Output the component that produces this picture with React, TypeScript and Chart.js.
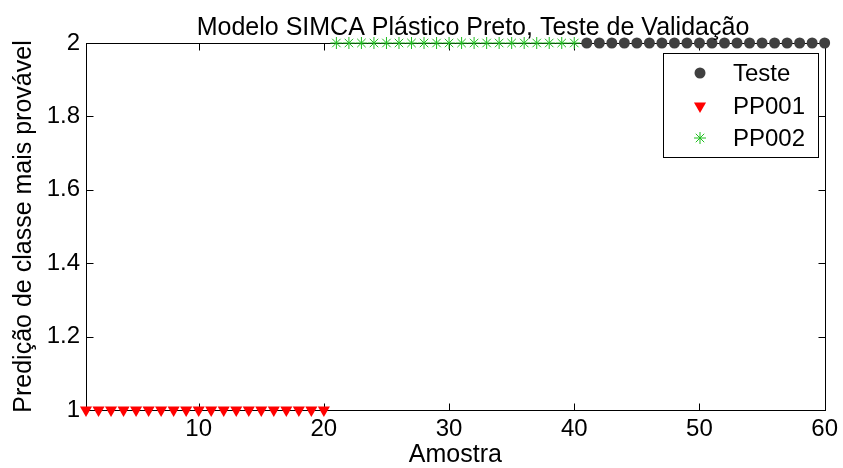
import React, { useEffect, useRef } from 'react';
import { Chart, registerables } from 'chart.js';

Chart.register(...registerables);

const TITLE = 'Modelo SIMCA Plástico Preto, Teste de Validação';
const X_LABEL = 'Amostra';
const Y_LABEL = 'Predição de classe mais provável';
const SERIES_NAMES = ['Teste', 'PP001', 'PP002'];

const testeX = [41, 42, 43, 44, 45, 46, 47, 48, 49, 50, 51, 52, 53, 54, 55, 56, 57, 58, 59, 60];
const testeY = [2, 2, 2, 2, 2, 2, 2, 2, 2, 2, 2, 2, 2, 2, 2, 2, 2, 2, 2, 2];
const pp001X = [1, 2, 3, 4, 5, 6, 7, 8, 9, 10, 11, 12, 13, 14, 15, 16, 17, 18, 19, 20];
const pp001Y = [1, 1, 1, 1, 1, 1, 1, 1, 1, 1, 1, 1, 1, 1, 1, 1, 1, 1, 1, 1];
const pp002X = [21, 22, 23, 24, 25, 26, 27, 28, 29, 30, 31, 32, 33, 34, 35, 36, 37, 38, 39, 40];
const pp002Y = [2, 2, 2, 2, 2, 2, 2, 2, 2, 2, 2, 2, 2, 2, 2, 2, 2, 2, 2, 2];

const X_TICKS = [10, 20, 30, 40, 50, 60];
const Y_TICKS = [1, 1.2, 1.4, 1.6, 1.8, 2];

const FONT = '"Liberation Sans", Arial, Helvetica, sans-serif';
const C_TESTE = '#404040';
const C_PP001 = '#ff0000';
const C_PP002 = '#1fbf1f';

const zip = (xs: number[], ys: number[]) => xs.map((x, i) => ({ x, y: ys[i] }));

function drawMarker(ctx: CanvasRenderingContext2D, kind: number, x: number, y: number) {
  ctx.save();
  if (kind === 0) {
    ctx.fillStyle = C_TESTE;
    ctx.beginPath();
    ctx.arc(x, y, 5.5, 0, Math.PI * 2);
    ctx.fill();
  } else if (kind === 1) {
    const r = 7;
    ctx.fillStyle = C_PP001;
    ctx.beginPath();
    ctx.moveTo(x - r * Math.sin(Math.PI / 3), y - r / 2);
    ctx.lineTo(x + r * Math.sin(Math.PI / 3), y - r / 2);
    ctx.lineTo(x, y + r);
    ctx.closePath();
    ctx.fill();
  } else {
    const r = 6;
    ctx.strokeStyle = C_PP002;
    ctx.lineWidth = 1;
    ctx.beginPath();
    for (let k = 0; k < 4; k++) {
      const a = (k * Math.PI) / 4;
      ctx.moveTo(x - r * Math.cos(a), y - r * Math.sin(a));
      ctx.lineTo(x + r * Math.cos(a), y + r * Math.sin(a));
    }
    ctx.stroke();
  }
  ctx.restore();
}

const framePlugin = {
  id: 'frame',
  beforeDatasetsDraw(chart: any) {
    const { ctx, chartArea } = chart;
    const xs = chart.scales.x;
    const ys = chart.scales.y;
    const l = Math.round(chartArea.left) + 0.5;
    const r = Math.round(chartArea.right) + 0.5;
    const t = Math.round(chartArea.top) + 0.5;
    const b = Math.round(chartArea.bottom) + 0.5;
    const tl = 7;
    ctx.save();
    ctx.strokeStyle = '#000';
    ctx.lineWidth = 1;
    ctx.strokeRect(l, t, r - l, b - t);
    ctx.beginPath();
    X_TICKS.forEach((v) => {
      const px = Math.round(xs.getPixelForValue(v)) + 0.5;
      ctx.moveTo(px, b);
      ctx.lineTo(px, b - tl);
      ctx.moveTo(px, t);
      ctx.lineTo(px, t + tl);
    });
    Y_TICKS.forEach((v) => {
      const py = Math.round(ys.getPixelForValue(v)) + 0.5;
      ctx.moveTo(l, py);
      ctx.lineTo(l + tl, py);
      ctx.moveTo(r, py);
      ctx.lineTo(r - tl, py);
    });
    ctx.stroke();
    ctx.restore();
  },
  afterDraw(chart: any) {
    const { ctx } = chart;
    ctx.save();
    // title
    ctx.fillStyle = '#000';
    ctx.font = `25px ${FONT}`;
    ctx.textAlign = 'center';
    ctx.textBaseline = 'alphabetic';
    ctx.fillText(TITLE, 473, 35);
    // legend
    const bx = 663.5, by = 53.5, bw = 155, bh = 104;
    ctx.fillStyle = '#fff';
    ctx.fillRect(bx, by, bw, bh);
    ctx.strokeStyle = '#000';
    ctx.lineWidth = 1;
    ctx.strokeRect(bx, by, bw, bh);
    const rows = [73, 106, 138];
    ctx.font = `24px ${FONT}`;
    ctx.textAlign = 'left';
    ctx.textBaseline = 'middle';
    SERIES_NAMES.forEach((name, i) => {
      drawMarker(ctx, i, 700, rows[i]);
      ctx.fillStyle = '#000';
      ctx.fillText(name, 733, rows[i] + 1);
    });
    ctx.restore();
  },
};

export default function App() {
  const ref = useRef<HTMLCanvasElement | null>(null);
  useEffect(() => {
    if (!ref.current) return;
    const chart = new Chart(ref.current, {
      type: 'scatter',
      data: {
        datasets: [
          {
            label: SERIES_NAMES[0],
            data: zip(testeX, testeY),
            pointStyle: 'circle',
            pointRadius: 5.5,
            backgroundColor: C_TESTE,
            borderColor: C_TESTE,
            borderWidth: 0,
            clip: false,
          },
          {
            label: SERIES_NAMES[1],
            data: zip(pp001X, pp001Y),
            pointStyle: 'triangle',
            rotation: 180,
            pointRadius: 7,
            backgroundColor: C_PP001,
            borderColor: C_PP001,
            borderWidth: 0,
            clip: false,
          },
          {
            label: SERIES_NAMES[2],
            data: zip(pp002X, pp002Y),
            pointStyle: 'star',
            pointRadius: 6,
            backgroundColor: C_PP002,
            borderColor: C_PP002,
            borderWidth: 1,
            clip: false,
          },
        ],
      } as any,
      options: {
        responsive: false,
        animation: false,
        events: [],
        layout: { padding: { top: 43, right: 17, left: 0, bottom: 0 } },
        plugins: {
          legend: { display: false },
          title: { display: false },
          tooltip: { enabled: false },
        },
        scales: {
          x: {
            type: 'linear',
            min: 1,
            max: 60,
            grid: { display: false, drawTicks: false },
            border: { display: false },
            afterBuildTicks: (s: any) => {
              s.ticks = X_TICKS.map((v) => ({ value: v }));
            },
            afterFit: (s: any) => {
              s.height = 58;
            },
            ticks: {
              color: '#000',
              font: { family: FONT, size: 24 },
              padding: 5,
              maxRotation: 0,
              autoSkip: false,
              callback: (v: any) => String(v),
            },
            title: {
              display: true,
              text: X_LABEL,
              color: '#000',
              font: { family: FONT, size: 25, lineHeight: 1 },
              padding: { top: 0, bottom: 0 },
            },
          },
          y: {
            type: 'linear',
            min: 1,
            max: 2,
            grid: { display: false, drawTicks: false },
            border: { display: false },
            afterBuildTicks: (s: any) => {
              s.ticks = Y_TICKS.map((v) => ({ value: v }));
            },
            afterFit: (s: any) => {
              s.width = 86;
            },
            ticks: {
              color: '#000',
              font: { family: FONT, size: 24 },
              padding: 6,
              autoSkip: false,
              callback: (v: any) => String(v),
            },
            title: {
              display: true,
              text: Y_LABEL,
              color: '#000',
              font: { family: FONT, size: 25, lineHeight: 1 },
              padding: { top: 12, bottom: 0 },
            },
          },
        },
      } as any,
      plugins: [framePlugin],
    });
    return () => chart.destroy();
  }, []);
  return (
    <div style={{ position: 'fixed', left: 0, top: 0, width: 843, height: 468, background: '#fff' }}>
      <canvas ref={ref} width={843} height={468} style={{ display: 'block', width: 843, height: 468 }} />
    </div>
  );
}
